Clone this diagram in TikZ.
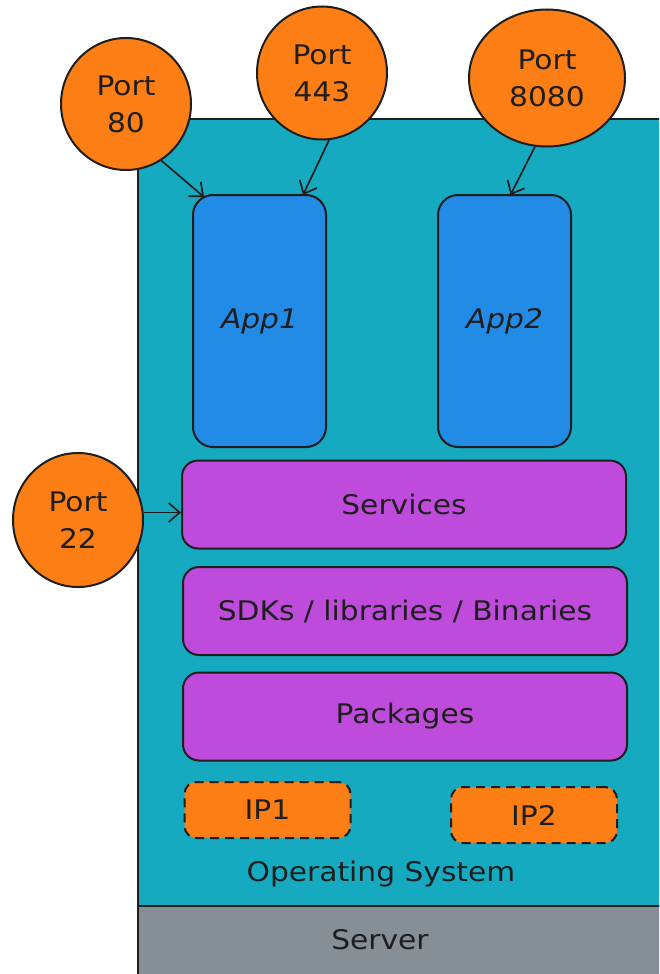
\documentclass[tikz,border=0pt]{standalone}
\usepackage{fontspec}
\setmainfont{DejaVu Sans}[FakeStretch=1.1]
\usetikzlibrary{shapes.geometric,arrows.meta,calc}

\definecolor{osteal}{HTML}{15AABF}
\definecolor{appblue}{HTML}{228BE6}
\definecolor{layerpurple}{HTML}{BE4BDB}
\definecolor{portorange}{HTML}{FD7E14}
\definecolor{servergray}{HTML}{868E96}
\definecolor{inkline}{HTML}{1E1E1E}

\tikzset{
  labelfont/.style={font=\fontsize{27}{37}\selectfont, text=inkline},
  portnode/.style={ellipse, draw=inkline, line width=2pt, fill=portorange,
    inner sep=0pt, align=center, labelfont},
  appbox/.style={draw=inkline, line width=2pt, fill=appblue, rounded corners=20pt,
    minimum width=133pt, minimum height=252pt, labelfont},
  layerbox/.style={draw=inkline, line width=2pt, fill=layerpurple, rounded corners=16pt,
    minimum width=444pt, minimum height=88pt, labelfont},
  ipbox/.style={draw=inkline, line width=2pt, dashed, dash pattern=on 9pt off 6pt,
    fill=portorange, rounded corners=12pt, minimum width=166pt, minimum height=56pt, labelfont},
  portarrow/.style={draw=inkline, line width=1.7pt, -{Straight Barb[length=11pt,width=19pt]}},
}

\begin{document}
\begin{tikzpicture}[x=1pt, y=-1pt]
\useasboundingbox (0,0) rectangle (659,974);
\begin{scope}
\clip (0,0) rectangle (659,974);

% host layers
\node[draw=inkline, line width=2.2pt, fill=servergray, anchor=north west,
  minimum width=540pt, minimum height=80pt] (server) at (137,905) {};
\node[draw=inkline, line width=2.2pt, fill=osteal, anchor=north west,
  minimum width=540pt, minimum height=787pt] (os) at (137,118) {};
\node[labelfont] (servertxt) at (380,940) {Server};
\node[labelfont] (ostxt) at (381,874) {Operating System};

% applications
\node[appbox] (app1) at (259.5,321) {\itshape App1};
\node[appbox] (app2) at (504.5,321) {\itshape App2};

% software stack
\node[layerbox] (services) at (404,504.5) {Services};
\node[layerbox] (sdks) at (405,611) {SDKs / libraries / Binaries};
\node[layerbox] (packages) at (405,716.5) {Packages};

% addresses
\node[ipbox] (ip1) at (267.5,810) {IP1};
\node[ipbox] (ip2) at (534,815) {IP2};

% ports
\node[portnode, minimum width=130pt, minimum height=132pt] (p80) at (126,104) {Port\\80};
\node[portnode, minimum width=130pt, minimum height=133pt] (p443) at (322,73) {Port\\443};
\node[portnode, minimum width=156pt, minimum height=137pt] (p8080) at (547,78) {Port\\8080};
\node[portnode, minimum width=130pt, minimum height=134pt] (p22) at (78,520) {Port\\22};

% connections
\draw[portarrow] (p80.-58) -- ($(app1.north west)+(12,3)$);
\draw[portarrow] (p443.-84) -- ($(app1.north east)+(-24,1)$);
\draw[portarrow] (p8080.-100) -- ($(app2.north)+(6,1)$);
\coordinate (svcin) at ($(services.west)+(0,8)$);
\draw[portarrow] (p22.east |- svcin) -- (svcin);
\end{scope}
\end{tikzpicture}
\end{document}
